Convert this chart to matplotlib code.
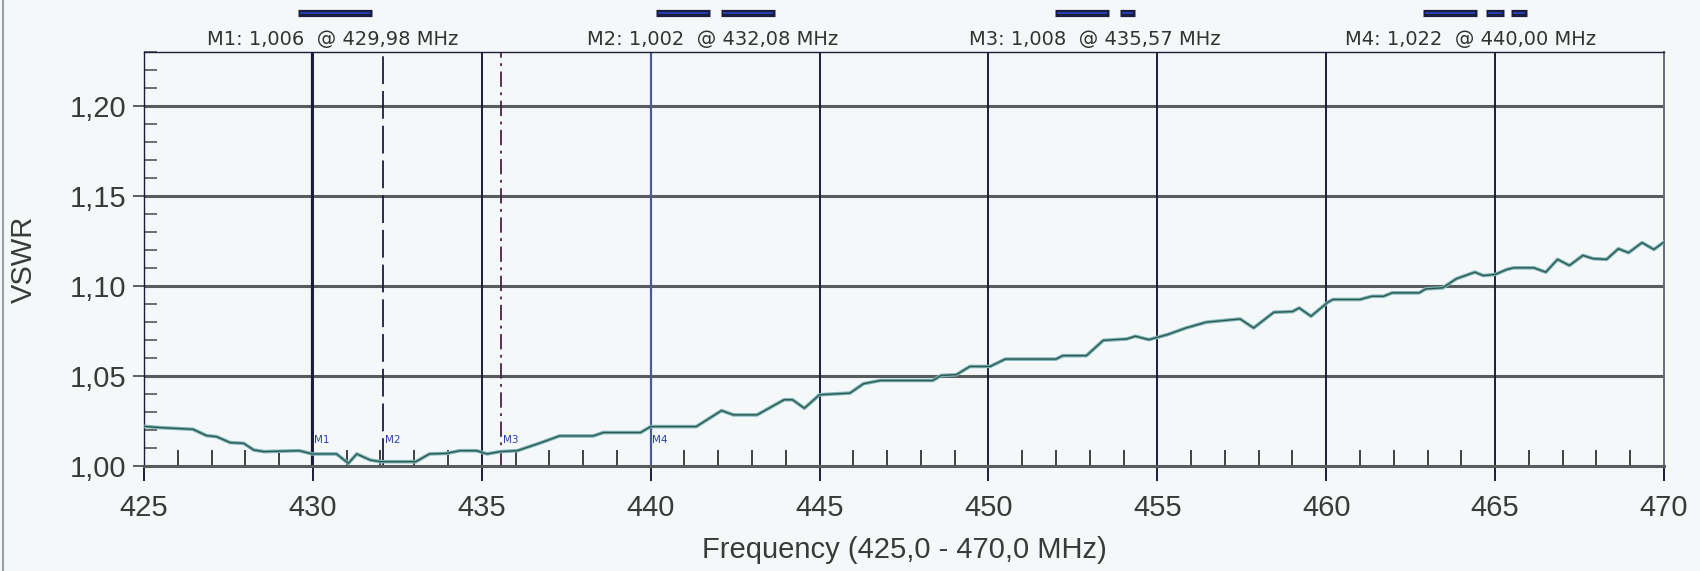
import matplotlib
matplotlib.use("Agg")
import matplotlib.pyplot as plt
from matplotlib.lines import Line2D
from matplotlib.ticker import MultipleLocator, FuncFormatter

# VSWR sweep
freq = [425.0, 425.5, 426.45, 426.85, 427.15, 427.55, 427.95, 428.25, 428.55, 429.6,
        429.98, 430.7, 431.05, 431.3, 431.7, 432.0, 433.05, 433.45, 433.95, 434.35,
        434.85, 435.15, 435.55, 436.05, 436.7, 437.3, 438.3, 438.6, 439.7, 440.0,
        441.35, 442.1, 442.45, 443.15, 443.95, 444.2, 444.55, 445.0, 445.9, 446.3,
        446.8, 448.35, 448.6, 449.05, 449.45, 450.05, 450.5, 452.0, 452.2, 452.9,
        453.4, 454.1, 454.35, 454.75, 455.3, 455.85, 456.45, 457.45, 457.85, 458.45,
        459.0, 459.2, 459.55, 460.05, 460.2, 461.0, 461.35, 461.7, 461.95, 462.75,
        462.95, 463.45, 463.85, 464.4, 464.65, 465.0, 465.35, 465.55, 466.15, 466.5,
        466.85, 467.2, 467.6, 467.9, 468.3, 468.65, 468.95, 469.35, 469.7, 470.0]
vswr = [1.0220, 1.0213, 1.0204, 1.0169, 1.0163, 1.0130, 1.0126, 1.0089, 1.0080, 1.0085,
        1.0067, 1.0067, 1.0015, 1.0067, 1.0033, 1.0024, 1.0024, 1.0067, 1.0070, 1.0085,
        1.0085, 1.0067, 1.0080, 1.0085, 1.0126, 1.0167, 1.0167, 1.0186, 1.0186, 1.0219,
        1.0219, 1.0308, 1.0284, 1.0284, 1.0368, 1.0368, 1.0321, 1.0396, 1.0405, 1.0457,
        1.0475, 1.0475, 1.0503, 1.0507, 1.0553, 1.0553, 1.0594, 1.0594, 1.0613, 1.0613,
        1.0698, 1.0706, 1.0721, 1.0702, 1.0730, 1.0767, 1.0799, 1.0817, 1.0767, 1.0854,
        1.0858, 1.0878, 1.0832, 1.0910, 1.0925, 1.0925, 1.0943, 1.0943, 1.0962, 1.0962,
        1.0984, 1.0990, 1.1040, 1.1077, 1.1058, 1.1064, 1.1092, 1.1101, 1.1101, 1.1077,
        1.1148, 1.1114, 1.1170, 1.1152, 1.1148, 1.1207, 1.1185, 1.1241, 1.1203, 1.1244]

# markers
marker_names = ["M1", "M2", "M3", "M4"]
marker_freq = [429.98, 432.08, 435.57, 440.00]
marker_vswr = ["1,006", "1,002", "1,008", "1,022"]
marker_freq_txt = ["429,98", "432,08", "435,57", "440,00"]

W, H = 1700, 571
bg = "#f5f8f8"
navy = "#1c1c3e"
txt = "#3a3a3a"

plt.rcParams["lines.scale_dashes"] = False
fig = plt.figure(figsize=(W / 100, H / 100), dpi=100, facecolor=bg)
ax = fig.add_axes([144 / W, 1 - 466 / H, 1520 / W, 414 / H], facecolor=bg)

ax.set_xlim(425, 470)
ax.set_ylim(1.0, 1.23)

# grid
for y in [1.05, 1.10, 1.15, 1.20]:
    ax.axhline(y, color="#575c5c", lw=2.2, zorder=1)
for x in range(430, 470, 5):
    ax.axvline(x, color=navy, lw=1.4, zorder=1)

# marker lines
mstyles = [dict(color=navy, ls="-", lw=1.6),
           dict(color=navy, ls=(0, (20, 5)), lw=1.3),
           dict(color="#4a2048", ls=(0, (11, 4, 2, 4)), lw=1.3),
           dict(color="#4a5a96", ls="-", lw=1.6)]
for f, name, st in zip(marker_freq, marker_names, mstyles):
    ax.axvline(f, zorder=2, **st)
    ax.text(f + 0.05, 1.0145, name, color="#2a3fa8", fontsize=7.5,
            ha="left", va="center", zorder=4)

# trace
ax.plot(freq, vswr, color="#7cb4bd", lw=2.6, zorder=3)
ax.plot(freq, vswr, color="#2f5a4a", lw=1.0, zorder=3)

# ticks
ax.xaxis.set_major_locator(MultipleLocator(5))
ax.xaxis.set_minor_locator(MultipleLocator(1))
ax.yaxis.set_major_locator(MultipleLocator(0.05))
ax.yaxis.set_minor_locator(MultipleLocator(0.01))
ax.yaxis.set_major_formatter(FuncFormatter(lambda v, p: f"{v:.2f}".replace(".", ",")))
ax.tick_params(axis="x", which="major", direction="out", length=11, width=1.4,
               color=navy, pad=9, labelsize=21, labelcolor=txt)
ax.tick_params(axis="x", which="minor", direction="in", length=11.5, width=1.2,
               color="#222222")
ax.tick_params(axis="y", which="major", direction="out", length=8, width=1.2,
               color="#444444", pad=5, labelsize=21, labelcolor=txt)
ax.tick_params(axis="y", which="minor", direction="in", length=9, width=1.2,
               color="#555555")
for lab in ax.get_xticklabels() + ax.get_yticklabels():
    lab.set_family("Liberation Sans")

ax.spines["bottom"].set_color("#575c5c")
ax.spines["bottom"].set_linewidth(2.2)
ax.spines["left"].set_color(navy)
ax.spines["left"].set_linewidth(1.0)
ax.spines["top"].set_color(navy)
ax.spines["top"].set_linewidth(1.0)
ax.spines["right"].set_color("#6a6a7a")
ax.spines["right"].set_linewidth(1.4)

ax.set_xlabel("Frequency (425,0 - 470,0 MHz)", fontsize=21, color=txt,
              family="Liberation Sans", va="center")
ax.xaxis.set_label_coords(0.5, -0.203)
ax.set_ylabel("VSWR", fontsize=21, color=txt, family="Liberation Sans", va="center")
ax.yaxis.set_label_coords(-0.079, 0.5)

# legend across the top: line-style sample bars and marker readouts
text_x = [333, 713, 1095, 1471]
bar_segs = [[(298, 372)],
            [(656, 710), (721, 775)],
            [(1055, 1109), (1120, 1135)],
            [(1423, 1477), (1486, 1504), (1511, 1527)]]
for i in range(4):
    label = f"{marker_names[i]}: {marker_vswr[i]}  @ {marker_freq_txt[i]} MHz"
    fig.text(text_x[i] / W, 1 - 39 / H, label, fontsize=14, color="#333333",
             ha="center", va="center", family="DejaVu Sans")
    for x0, x1 in bar_segs[i]:
        yy = 1 - 13 / H
        fig.add_artist(Line2D([x0 / W, x1 / W], [yy, yy], transform=fig.transFigure,
                              color=navy, lw=5.2, solid_capstyle="butt"))
        fig.add_artist(Line2D([(x0 + 2) / W, (x1 - 2) / W], [yy, yy],
                              transform=fig.transFigure, color="#2446c8", lw=1.2,
                              solid_capstyle="butt"))

# left window border
fig.add_artist(Line2D([3 / W, 3 / W], [0, 1], transform=fig.transFigure,
                      color="#9aa0a8", lw=1.5))

fig.savefig("out.png", dpi=100, facecolor=bg)
